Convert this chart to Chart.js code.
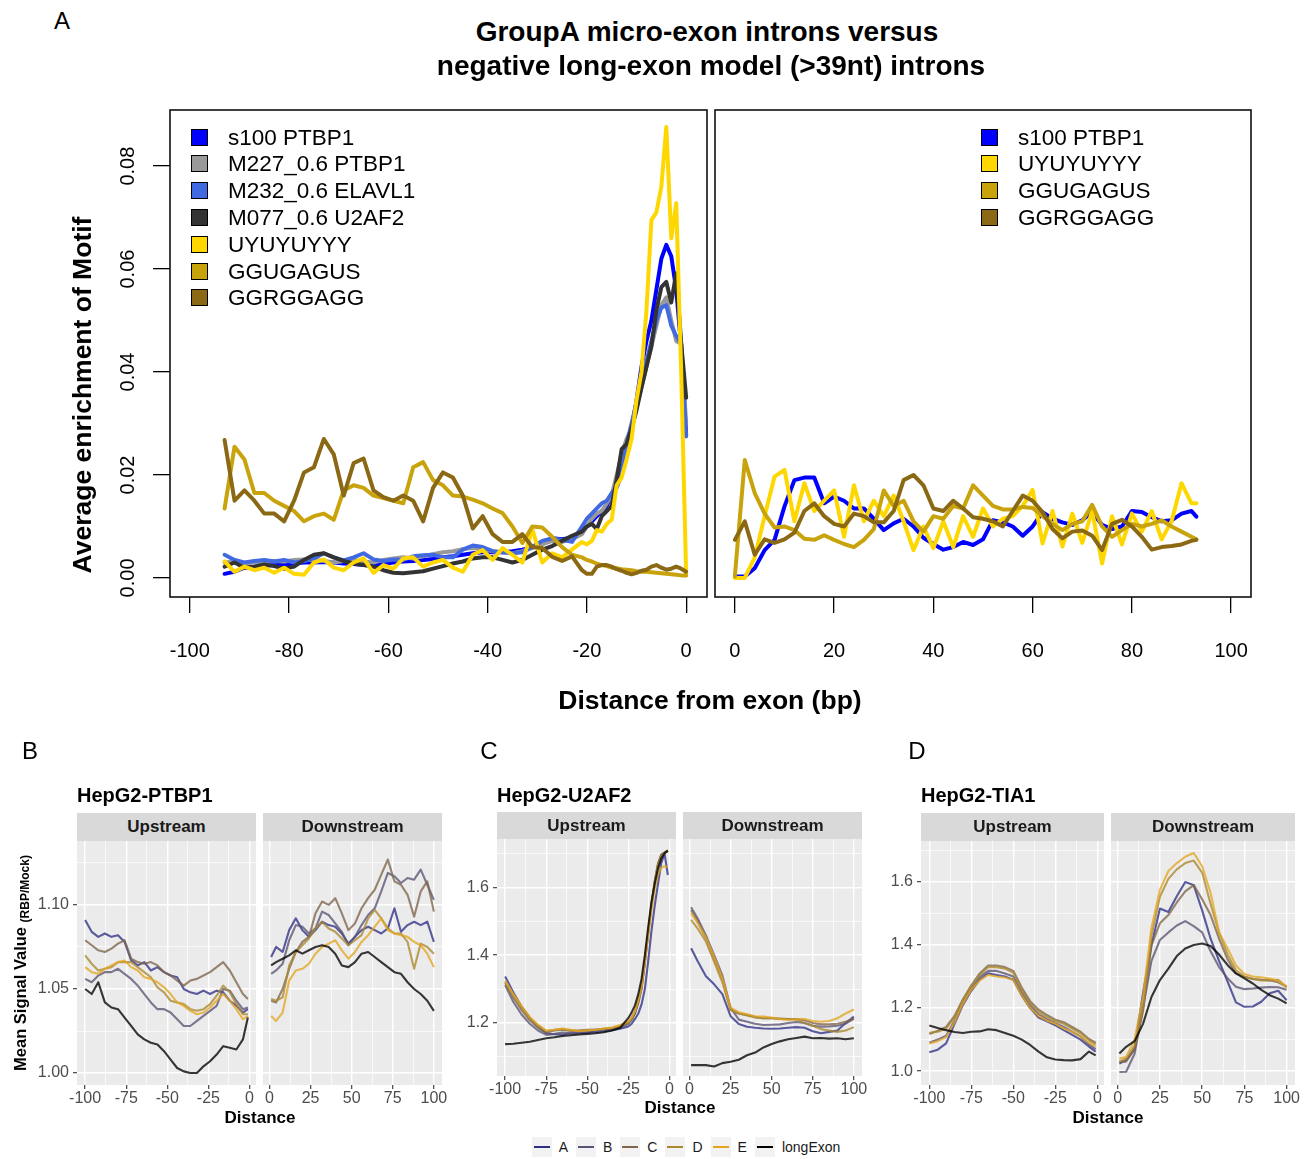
<!DOCTYPE html>
<html>
<head>
<meta charset="utf-8">
<script src="https://cdn.jsdelivr.net/npm/chart.js@4.4.1/dist/chart.umd.min.js"></script>
<style>
  html, body { margin: 0; padding: 0; background: #fff; }
  body { position: relative; width: 1310px; height: 1159px; overflow: hidden;
         font-family: "Liberation Sans", Arial, Helvetica, sans-serif; color: #000; }
  canvas { position: absolute; }
  .t { position: absolute; white-space: nowrap; }
  .strip { position: absolute; background: #d9d9d9; color: #1a1a1a; font-weight: bold;
           font-size: 17px; text-align: center; z-index: 2; }
  .key { position: absolute; width: 17px; height: 17px; box-sizing: border-box; border: 1.5px solid #000; }
  #glegend { position: absolute; left: 390px; width: 600px; top: 1137px; height: 20px;
             display: flex; justify-content: center; align-items: center; font-size: 14px; color: #1a1a1a; }
  #glegend .it { display: flex; align-items: center; margin-right: 8px; }
  #glegend .gk { width: 20px; height: 20px; background: #f2f2f2; position: relative; margin-right: 7px; }
  #glegend .gk span { position: absolute; left: 2px; right: 2px; top: 9px; height: 2px; }
</style>
</head>
<body>
<canvas id="motifUp"></canvas>
<canvas id="motifDown"></canvas>
<canvas id="ptbp1Up"></canvas>
<canvas id="ptbp1Down"></canvas>
<canvas id="u2af2Up"></canvas>
<canvas id="u2af2Down"></canvas>
<canvas id="tia1Up"></canvas>
<canvas id="tia1Down"></canvas>
<div id="glegend"></div>
<script>
// ---------- panel A: motif enrichment ----------
const motifNames = ['s100 PTBP1', 'M227_0.6 PTBP1', 'M232_0.6 ELAVL1', 'M077_0.6 U2AF2', 'UYUYUYYY', 'GGUGAGUS', 'GGRGGAGG'];
const motifColors = ['#0000ff', '#999999', '#4169e1', '#333333', '#ffd700', '#c9a30c', '#8b6914'];

const motifUpX = [-93,-91,-89,-87,-85,-83,-81,-79,-77,-75,-73,-71,-69,-67,-65,-63,-61,-59,-57,-55,-53,-51,-49,-47,-45,-43,-41,-39,-37,-35,-33,-31,-29,-27,-25,-23,-21,
  -20,-19,-18,-17,-16,-15,-14,-13,-12,-11,-10,-9,-8,-7,-6,-5,-4,-3,-2,-1,0];

const s100Up = [0.0008,0.0012,0.0020,0.0022,0.0024,0.0025,0.0026,0.0028,0.0030,0.0030,0.0031,0.0030,0.0028,0.0027,0.0025,0.0024,0.0027,0.0030,0.0032,0.0033,0.0035,0.0037,0.0040,0.0042,0.0045,0.0048,0.0050,0.0050,0.0050,0.0052,0.0055,0.0060,0.0070,0.0077,0.0075,0.0078,0.0090,
  0.0100,0.0110,0.0120,0.0130,0.0140,0.0160,0.0185,0.0210,0.0245,0.0290,0.0345,0.0410,0.0460,0.0500,0.0560,0.0620,0.0647,0.0625,0.0560,0.0450,0.0278];
const m227Up = [0.0030,0.0032,0.0028,0.0030,0.0031,0.0033,0.0032,0.0035,0.0036,0.0035,0.0033,0.0030,0.0033,0.0035,0.0032,0.0030,0.0035,0.0038,0.0040,0.0038,0.0042,0.0046,0.0050,0.0052,0.0056,0.0058,0.0055,0.0052,0.0050,0.0048,0.0052,0.0058,0.0065,0.0072,0.0070,0.0075,0.0085,
  0.0100,0.0115,0.0125,0.0130,0.0145,0.0160,0.0200,0.0240,0.0270,0.0290,0.0330,0.0370,0.0410,0.0450,0.0490,0.0530,0.0545,0.0500,0.0460,0.0455,0.0300];
const m232Up = [0.0045,0.0035,0.0030,0.0033,0.0035,0.0032,0.0035,0.0030,0.0033,0.0038,0.0048,0.0040,0.0034,0.0040,0.0048,0.0036,0.0033,0.0036,0.0035,0.0042,0.0044,0.0045,0.0040,0.0040,0.0055,0.0063,0.0060,0.0052,0.0050,0.0048,0.0050,0.0060,0.0072,0.0077,0.0074,0.0070,0.0100,
  0.0115,0.0125,0.0135,0.0145,0.0150,0.0165,0.0175,0.0200,0.0260,0.0300,0.0340,0.0380,0.0420,0.0460,0.0500,0.0525,0.0530,0.0490,0.0470,0.0455,0.0275];
const m077Up = [0.0022,0.0030,0.0020,0.0022,0.0026,0.0023,0.0018,0.0022,0.0035,0.0045,0.0048,0.0040,0.0033,0.0028,0.0025,0.0022,0.0015,0.0010,0.0009,0.0011,0.0013,0.0018,0.0023,0.0028,0.0032,0.0038,0.0040,0.0040,0.0035,0.0030,0.0035,0.0045,0.0055,0.0062,0.0072,0.0082,0.0090,
  0.0100,0.0105,0.0095,0.0120,0.0130,0.0140,0.0190,0.0250,0.0260,0.0290,0.0326,0.0370,0.0410,0.0450,0.0520,0.0565,0.0575,0.0535,0.0592,0.0456,0.0350];
const uyuUp = [0.0032,0.0012,0.0022,0.0015,0.0020,0.0010,0.0020,0.0008,0.0006,0.0030,0.0036,0.0020,0.0015,0.0030,0.0038,0.0010,0.0025,0.0018,0.0038,0.0040,0.0022,0.0030,0.0035,0.0020,0.0012,0.0045,0.0054,0.0035,0.0058,0.0045,0.0030,0.0095,0.0030,0.0048,0.0040,0.0055,0.0070,
  0.0065,0.0072,0.0093,0.0090,0.0105,0.0113,0.0180,0.0195,0.0230,0.0270,0.0346,0.0400,0.0520,0.0695,0.0710,0.0760,0.0876,0.0660,0.0728,0.0400,0.0005];
const ggugUp = [0.0135,0.0255,0.0230,0.0165,0.0165,0.0150,0.0140,0.0130,0.0110,0.0120,0.0125,0.0113,0.0170,0.0180,0.0175,0.0160,0.0155,0.0150,0.0145,0.0215,0.0225,0.0190,0.0180,0.0160,0.0158,0.0152,0.0145,0.0135,0.0126,0.0100,0.0068,0.0100,0.0098,0.0080,0.0060,0.0045,0.0040,
  0.0035,0.0032,0.0028,0.0025,0.0023,0.0020,0.0019,0.0017,0.0016,0.0015,0.0013,0.0012,0.0012,0.0011,0.0010,0.0009,0.0008,0.0007,0.0006,0.0005,0.0005];
const ggrgUp = [0.0268,0.0150,0.0170,0.0150,0.0125,0.0125,0.0110,0.0150,0.0205,0.0215,0.0270,0.0240,0.0160,0.0223,0.0232,0.0170,0.0157,0.0150,0.0160,0.0150,0.0110,0.0175,0.0205,0.0195,0.0160,0.0096,0.0120,0.0085,0.0070,0.0070,0.0085,0.0060,0.0058,0.0041,0.0033,0.0042,0.0015,
  0.0008,0.0008,0.0022,0.0025,0.0025,0.0022,0.0017,0.0014,0.0010,0.0007,0.0010,0.0014,0.0016,0.0022,0.0025,0.0020,0.0016,0.0018,0.0022,0.0018,0.0012];

const motifDownX = [0,2,4,6,8,10,12,14,16,18,20,22,24,26,28,30,32,34,36,38,40,42,44,46,48,50,52,54,56,58,60,62,64,66,68,70,72,74,76,78,80,82,84,86,88,90,92,93];
const s100Down = [0.0003,0.0003,0.0019,0.0054,0.0074,0.0139,0.0190,0.0195,0.0195,0.0145,0.0158,0.0150,0.0135,0.0135,0.0115,0.0093,0.0106,0.0115,0.0100,0.0078,0.0066,0.0055,0.0060,0.0070,0.0064,0.0075,0.0112,0.0108,0.0100,0.0082,0.0100,0.0128,0.0115,0.0108,0.0103,0.0112,0.0128,0.0103,0.0095,0.0100,0.0130,0.0128,0.0118,0.0110,0.0112,0.0125,0.0130,0.0119];
const uyuDown = [0.0000,0.0000,0.0040,0.0120,0.0197,0.0210,0.0110,0.0184,0.0130,0.0150,0.0170,0.0080,0.0180,0.0110,0.0150,0.0120,0.0160,0.0110,0.0054,0.0100,0.0058,0.0110,0.0060,0.0120,0.0080,0.0135,0.0100,0.0115,0.0120,0.0140,0.0171,0.0067,0.0130,0.0061,0.0125,0.0068,0.0130,0.0028,0.0120,0.0065,0.0125,0.0090,0.0130,0.0075,0.0110,0.0184,0.0145,0.0145];
const ggugDown = [0.0003,0.0229,0.0165,0.0125,0.0098,0.0100,0.0093,0.0076,0.0074,0.0083,0.0074,0.0066,0.0060,0.0074,0.0095,0.0170,0.0140,0.0150,0.0110,0.0090,0.0120,0.0115,0.0140,0.0135,0.0180,0.0160,0.0140,0.0133,0.0133,0.0138,0.0136,0.0120,0.0105,0.0093,0.0105,0.0110,0.0142,0.0100,0.0080,0.0093,0.0105,0.0100,0.0105,0.0112,0.0100,0.0090,0.0080,0.0075];
const ggrgDown = [0.0074,0.0110,0.0045,0.0075,0.0068,0.0075,0.0088,0.0130,0.0145,0.0120,0.0105,0.0100,0.0125,0.0120,0.0108,0.0108,0.0130,0.0190,0.0200,0.0180,0.0135,0.0130,0.0150,0.0135,0.0118,0.0115,0.0110,0.0100,0.0130,0.0160,0.0150,0.0128,0.0095,0.0077,0.0090,0.0092,0.0082,0.0054,0.0105,0.0113,0.0100,0.0080,0.0055,0.0060,0.0062,0.0065,0.0072,0.0074];

const motifUpTicks = [-100, -80, -60, -40, -20, 0];
const motifDownTicks = [0, 20, 40, 60, 80, 100];
const motifYTicks = [0, 0.02, 0.04, 0.06, 0.08];

// ---------- panels B-D: signal profiles ----------
const groupNames = ['A', 'B', 'C', 'D', 'E', 'longExon'];
const groupColors = ['#2f2f86', '#5b5373', '#7e654b', '#a9882f', '#e3a521', '#000000'];

const upX4 = [-100,-96,-92,-88,-84,-80,-76,-72,-68,-64,-60,-56,-52,-48,-44,-40,-36,-32,-28,-24,-20,-16,-12,-8,-4,-1];
const downX4 = [1,4,8,12,16,20,24,28,32,36,40,44,48,52,56,60,64,68,72,76,80,84,88,92,96,100];
const ptbp1Up = [
  [1.091,1.084,1.081,1.083,1.081,1.082,1.078,1.067,1.064,1.066,1.061,1.063,1.060,1.058,1.057,1.050,1.048,1.047,1.049,1.047,1.049,1.048,1.043,1.040,1.036,1.038],
  [1.056,1.054,1.058,1.060,1.060,1.062,1.059,1.056,1.052,1.047,1.042,1.038,1.038,1.036,1.032,1.028,1.028,1.031,1.034,1.037,1.040,1.050,1.049,1.043,1.038,1.039],
  [1.079,1.076,1.073,1.072,1.074,1.077,1.079,1.068,1.066,1.065,1.066,1.064,1.060,1.058,1.055,1.052,1.055,1.056,1.058,1.060,1.063,1.066,1.061,1.054,1.047,1.044],
  [1.070,1.065,1.061,1.062,1.063,1.066,1.066,1.066,1.063,1.060,1.057,1.051,1.048,1.043,1.042,1.041,1.038,1.037,1.038,1.041,1.046,1.052,1.048,1.041,1.035,1.035],
  [1.063,1.060,1.059,1.062,1.064,1.066,1.067,1.063,1.061,1.057,1.056,1.054,1.051,1.047,1.042,1.040,1.037,1.035,1.036,1.039,1.043,1.047,1.043,1.038,1.032,1.034],
  [1.050,1.047,1.054,1.042,1.039,1.038,1.033,1.028,1.023,1.020,1.018,1.017,1.013,1.008,1.003,1.001,1.000,1.000,1.004,1.007,1.011,1.016,1.015,1.014,1.020,1.033]
];
const ptbp1Down = [
  [1.069,1.075,1.072,1.085,1.092,1.085,1.081,1.085,1.090,1.088,1.087,1.083,1.077,1.081,1.085,1.087,1.085,1.083,1.086,1.098,1.084,1.088,1.090,1.088,1.090,1.078],
  [1.059,1.061,1.065,1.079,1.088,1.087,1.083,1.086,1.096,1.094,1.089,1.084,1.076,1.081,1.088,1.094,1.098,1.108,1.119,1.117,1.113,1.116,1.115,1.121,1.112,1.103],
  [1.043,1.042,1.050,1.062,1.072,1.078,1.081,1.095,1.102,1.100,1.104,1.095,1.085,1.089,1.098,1.104,1.109,1.118,1.127,1.114,1.112,1.106,1.093,1.108,1.114,1.096],
  [1.044,1.043,1.045,1.064,1.072,1.076,1.080,1.086,1.090,1.086,1.084,1.080,1.076,1.079,1.082,1.092,1.097,1.092,1.086,1.083,1.083,1.078,1.062,1.077,1.075,1.071],
  [1.034,1.031,1.036,1.055,1.061,1.062,1.065,1.071,1.075,1.077,1.079,1.073,1.068,1.072,1.078,1.082,1.087,1.092,1.085,1.083,1.082,1.081,1.078,1.076,1.071,1.063],
  [1.064,1.066,1.068,1.070,1.073,1.071,1.073,1.075,1.076,1.075,1.071,1.064,1.063,1.066,1.071,1.072,1.069,1.066,1.063,1.060,1.059,1.054,1.050,1.047,1.043,1.037]
];

const u2af2UpX = [-100,-95,-90,-85,-80,-75,-70,-65,-60,-55,-50,-45,-40,-35,-30,-25,-23,-21,-19,-17,-15,-13,-11,-9,-7,-5,-3,-1];
const downX5 = [1,5,10,15,20,25,30,35,40,45,50,55,60,65,70,75,80,85,90,95,100];
const u2af2Up = [
  [1.337,1.290,1.248,1.215,1.190,1.170,1.167,1.166,1.170,1.170,1.172,1.174,1.176,1.179,1.183,1.190,1.198,1.212,1.228,1.255,1.300,1.380,1.470,1.545,1.610,1.672,1.698,1.636],
  [1.312,1.262,1.225,1.198,1.178,1.165,1.168,1.172,1.170,1.173,1.175,1.178,1.180,1.180,1.186,1.198,1.210,1.228,1.258,1.300,1.375,1.460,1.545,1.615,1.668,1.695,1.702,1.705],
  [1.318,1.275,1.238,1.208,1.186,1.172,1.178,1.180,1.177,1.178,1.180,1.181,1.182,1.184,1.190,1.200,1.212,1.230,1.262,1.305,1.380,1.465,1.550,1.618,1.670,1.696,1.703,1.708],
  [1.322,1.282,1.245,1.214,1.192,1.176,1.180,1.182,1.178,1.178,1.179,1.180,1.183,1.186,1.192,1.203,1.215,1.235,1.268,1.310,1.385,1.468,1.548,1.612,1.666,1.692,1.700,1.706],
  [1.325,1.285,1.250,1.218,1.195,1.178,1.180,1.184,1.180,1.176,1.178,1.180,1.184,1.187,1.194,1.205,1.216,1.236,1.266,1.308,1.380,1.458,1.532,1.595,1.638,1.658,1.662,1.660],
  [1.138,1.139,1.142,1.145,1.150,1.155,1.158,1.162,1.164,1.166,1.168,1.170,1.173,1.178,1.186,1.215,1.232,1.252,1.285,1.330,1.400,1.480,1.555,1.610,1.655,1.685,1.700,1.708]
];
const u2af2Down = [
  [1.420,1.382,1.338,1.314,1.285,1.220,1.197,1.189,1.186,1.184,1.183,1.184,1.186,1.188,1.186,1.176,1.170,1.174,1.178,1.200,1.219],
  [1.541,1.508,1.458,1.400,1.340,1.245,1.210,1.204,1.198,1.194,1.195,1.196,1.200,1.203,1.200,1.192,1.189,1.190,1.192,1.198,1.212],
  [1.533,1.500,1.450,1.390,1.330,1.240,1.228,1.224,1.218,1.214,1.214,1.213,1.212,1.212,1.208,1.200,1.196,1.196,1.198,1.204,1.213],
  [1.504,1.478,1.440,1.380,1.320,1.238,1.228,1.222,1.216,1.214,1.214,1.212,1.212,1.210,1.200,1.192,1.182,1.178,1.174,1.178,1.188],
  [1.523,1.494,1.452,1.394,1.332,1.245,1.232,1.226,1.220,1.219,1.216,1.212,1.209,1.211,1.212,1.206,1.204,1.206,1.214,1.228,1.240],
  [1.076,1.076,1.076,1.072,1.082,1.086,1.092,1.105,1.113,1.128,1.138,1.146,1.152,1.156,1.160,1.155,1.156,1.154,1.155,1.152,1.155]
];

const upX5 = [-100,-95,-90,-85,-80,-75,-70,-65,-60,-55,-50,-45,-40,-35,-30,-25,-20,-15,-10,-5,-1];
const tia1Up = [
  [1.060,1.068,1.088,1.150,1.210,1.255,1.290,1.310,1.305,1.300,1.290,1.240,1.200,1.170,1.158,1.145,1.130,1.115,1.100,1.078,1.062],
  [1.090,1.100,1.112,1.160,1.220,1.262,1.298,1.318,1.318,1.310,1.300,1.250,1.210,1.180,1.165,1.152,1.140,1.125,1.110,1.085,1.070],
  [1.118,1.128,1.140,1.175,1.228,1.272,1.310,1.335,1.335,1.330,1.318,1.265,1.222,1.195,1.178,1.163,1.155,1.140,1.125,1.102,1.090],
  [1.122,1.125,1.135,1.170,1.225,1.270,1.305,1.330,1.330,1.325,1.312,1.258,1.215,1.188,1.172,1.158,1.150,1.135,1.120,1.098,1.085],
  [1.088,1.095,1.108,1.155,1.215,1.258,1.288,1.305,1.300,1.297,1.290,1.240,1.200,1.175,1.160,1.150,1.135,1.125,1.110,1.090,1.078],
  [1.145,1.137,1.130,1.124,1.121,1.125,1.126,1.133,1.130,1.121,1.112,1.100,1.083,1.062,1.044,1.037,1.035,1.034,1.038,1.062,1.050]
];
const tia1Down = [
  [1.024,1.035,1.070,1.247,1.400,1.516,1.505,1.555,1.600,1.590,1.510,1.420,1.350,1.285,1.218,1.204,1.205,1.220,1.247,1.255,1.225],
  [0.997,0.998,1.055,1.200,1.350,1.416,1.440,1.462,1.476,1.460,1.440,1.380,1.330,1.295,1.268,1.260,1.262,1.265,1.267,1.266,1.258],
  [1.030,1.030,1.070,1.190,1.400,1.469,1.495,1.535,1.570,1.590,1.545,1.495,1.420,1.355,1.310,1.299,1.292,1.290,1.288,1.282,1.268],
  [1.030,1.040,1.080,1.200,1.430,1.553,1.610,1.640,1.660,1.668,1.630,1.530,1.440,1.370,1.320,1.300,1.292,1.288,1.288,1.290,1.265],
  [1.040,1.045,1.100,1.236,1.455,1.575,1.635,1.660,1.680,1.692,1.650,1.565,1.440,1.390,1.335,1.308,1.300,1.298,1.294,1.287,1.268],
  [1.056,1.077,1.095,1.150,1.235,1.289,1.325,1.365,1.389,1.400,1.405,1.397,1.370,1.337,1.310,1.294,1.278,1.258,1.241,1.230,1.215]
];

const upMajor = [-100, -75, -50, -25, 0], upMinor = [-87.5, -62.5, -37.5, -12.5];
const downMajor = [0, 25, 50, 75, 100], downMinor = [12.5, 37.5, 62.5, 87.5];

// ---------- helpers ----------
const FONT = '"Liberation Sans", Arial, Helvetica, sans-serif';
Chart.defaults.font.family = FONT;

const panelBg = {
  id: 'panelBg',
  beforeDraw(chart, args, opts) {
    if (!opts.color) return;
    const a = chart.chartArea, ctx = chart.ctx;
    ctx.save();
    ctx.fillStyle = opts.color;
    ctx.fillRect(a.left, a.top, a.right - a.left, a.bottom - a.top);
    ctx.restore();
  }
};
const panelBox = {
  id: 'panelBox',
  afterDraw(chart, args, opts) {
    if (!opts.color) return;
    const a = chart.chartArea, ctx = chart.ctx;
    ctx.save();
    ctx.strokeStyle = opts.color;
    ctx.lineWidth = opts.width;
    ctx.strokeRect(a.left, a.top, a.right - a.left, a.bottom - a.top);
    ctx.restore();
  }
};
// base-R style y labels, turned to read upwards
const sideLabels = {
  id: 'sideLabels',
  afterDraw(chart, args, opts) {
    if (opts.x == null) return;
    const sc = chart.scales.y, ctx = chart.ctx;
    ctx.save();
    ctx.font = opts.size + 'px ' + FONT;
    ctx.fillStyle = '#000';
    ctx.textAlign = 'center';
    ctx.textBaseline = 'middle';
    sc.ticks.forEach(t => {
      ctx.save();
      ctx.translate(opts.x, sc.getPixelForValue(t.value));
      ctx.rotate(-Math.PI / 2);
      ctx.fillText(t.value.toFixed(2), 0, 0);
      ctx.restore();
    });
    ctx.restore();
  }
};
Chart.register(panelBg, panelBox, sideLabels);

function place(cv, area, yW, xH, pad) {
  cv.width = area.w + yW + 2 * pad;
  cv.height = area.h + xH + 2 * pad;
  cv.style.left = (area.x - yW - pad) + 'px';
  cv.style.top = (area.y - pad) + 'px';
  return area.x - yW - pad;
}

function fade(hex, a) {
  const n = parseInt(hex.slice(1), 16);
  return 'rgba(' + (n >> 16) + ',' + ((n >> 8) & 255) + ',' + (n & 255) + ',' + a + ')';
}

function label(text, x, y, size, o) {
  o = o || {};
  const d = document.createElement('div');
  d.className = 't';
  d.innerHTML = text;
  const lh = Math.round(size * 1.2);
  d.style.fontSize = size + 'px';
  d.style.lineHeight = lh + 'px';
  d.style.top = (y - lh / 2) + 'px';
  if (o.bold) d.style.fontWeight = 'bold';
  if (o.color) d.style.color = o.color;
  if (o.left) {
    d.style.left = x + 'px';
  } else {
    d.style.left = (x - 400) + 'px';
    d.style.width = '800px';
    d.style.textAlign = 'center';
  }
  if (o.rotate) d.style.transform = 'rotate(-90deg)';
  document.body.appendChild(d);
  return d;
}

function motifPanel(id, area, xs, vals, idx, xMin, xMax, xTicks, withY) {
  const cv = document.getElementById(id);
  const pad = 30, yW = withY ? 70 : 0, xH = 60;
  const left = place(cv, area, yW, xH, pad);
  new Chart(cv, {
    type: 'line',
    data: {
      datasets: vals.map((v, i) => ({
        label: motifNames[idx[i]],
        data: xs.map((x, j) => ({ x: x, y: v[j] })),
        borderColor: motifColors[idx[i]],
        borderWidth: 4,
        pointRadius: 0,
        tension: 0,
        fill: false,
        borderJoinStyle: 'round',
        borderCapStyle: 'round',
        order: vals.length - i
      }))
    },
    options: {
      responsive: false, animation: false, devicePixelRatio: 1,
      layout: { padding: pad },
      plugins: {
        legend: { display: false }, tooltip: { enabled: false },
        panelBox: { color: '#111', width: 1.6 },
        sideLabels: withY ? { x: 128 - left, size: 20 } : {}
      },
      scales: {
        x: {
          type: 'linear', min: xMin, max: xMax, bounds: 'data',
          afterBuildTicks: ax => { ax.ticks = xTicks.map(v => ({ value: v })); },
          afterFit: ax => { ax.height = xH; },
          grid: { drawOnChartArea: false, drawTicks: true, tickLength: 16, color: '#000', lineWidth: 1.3 },
          border: { display: false },
          ticks: { padding: 26, color: '#000', font: { size: 20 }, autoSkip: false, maxRotation: 0,
                   callback: v => String(v) }
        },
        y: {
          type: 'linear', display: withY, min: -0.0037, max: 0.0909, bounds: 'data',
          afterBuildTicks: ax => { ax.ticks = motifYTicks.map(v => ({ value: v })); },
          afterFit: ax => { ax.width = yW; },
          grid: { drawOnChartArea: false, drawTicks: true, tickLength: 17, color: '#000', lineWidth: 1.3 },
          border: { display: false },
          ticks: { display: false }
        }
      }
    }
  });
}

function facet(id, area, xs, vals, xr, xMaj, xMin, yr, yMaj, yMin, digits, withY) {
  const cv = document.getElementById(id);
  const pad = 16, yW = withY ? 50 : 0, xH = 24;
  place(cv, area, yW, xH, pad);
  const key = v => Math.round(v * 1000);
  const xSet = new Set(xMaj.map(key)), ySet = new Set(yMaj.map(key));
  const xAll = xMaj.concat(xMin).sort((a, b) => a - b);
  const yAll = yMaj.concat(yMin).sort((a, b) => a - b);
  const isMaj = (set, c) => c.tick && set.has(key(c.tick.value));
  new Chart(cv, {
    type: 'line',
    data: {
      datasets: vals.map((v, i) => ({
        label: groupNames[i],
        data: xs.map((x, j) => ({ x: x, y: v[j] })),
        borderColor: fade(groupColors[i], 0.78),
        borderWidth: 2.1,
        pointRadius: 0,
        tension: 0,
        fill: false,
        borderJoinStyle: 'round',
        order: vals.length - i
      }))
    },
    options: {
      responsive: false, animation: false, devicePixelRatio: 1,
      layout: { padding: pad },
      plugins: { legend: { display: false }, tooltip: { enabled: false }, panelBg: { color: '#ebebeb' } },
      scales: {
        x: {
          type: 'linear', min: xr[0], max: xr[1], bounds: 'data',
          afterBuildTicks: ax => { ax.ticks = xAll.map(v => ({ value: v })); },
          afterFit: ax => { ax.height = xH; },
          grid: {
            color: '#ffffff',
            lineWidth: c => isMaj(xSet, c) ? 1.4 : 0.7,
            drawTicks: true, tickLength: 4,
            tickColor: c => isMaj(xSet, c) ? '#333333' : 'rgba(0,0,0,0)',
            tickWidth: 1.1
          },
          border: { display: false },
          ticks: { padding: 0, color: '#4d4d4d', font: { size: 16 }, autoSkip: false, maxRotation: 0,
                   callback: v => xSet.has(key(v)) ? String(v) : '' }
        },
        y: {
          type: 'linear', min: yr[0], max: yr[1], bounds: 'data',
          afterBuildTicks: ax => { ax.ticks = yAll.map(v => ({ value: v })); },
          afterFit: ax => { ax.width = yW; },
          grid: {
            color: '#ffffff',
            lineWidth: c => isMaj(ySet, c) ? 1.4 : 0.7,
            drawTicks: withY, tickLength: 4,
            tickColor: c => isMaj(ySet, c) ? '#333333' : 'rgba(0,0,0,0)',
            tickWidth: 1.1
          },
          border: { display: false },
          ticks: { display: withY, padding: 4, color: '#4d4d4d', font: { size: 16 }, autoSkip: false,
                   callback: v => ySet.has(key(v)) ? v.toFixed(digits) : '' }
        }
      }
    }
  });
}

function strip(text, area, h) {
  const d = document.createElement('div');
  d.className = 'strip';
  d.textContent = text;
  d.style.left = area.x + 'px';
  d.style.width = area.w + 'px';
  d.style.top = (area.y - h) + 'px';
  d.style.height = h + 'px';
  d.style.lineHeight = h + 'px';
  document.body.appendChild(d);
}

function motifLegend(x, y0, idx) {
  idx.forEach((k, i) => {
    const y = y0 + i * 26.8;
    const b = document.createElement('div');
    b.className = 'key';
    b.style.left = x + 'px';
    b.style.top = (y - 8.5) + 'px';
    b.style.background = motifColors[k];
    document.body.appendChild(b);
    label(motifNames[k], x + 37, y, 22.5, { left: true });
  });
}

// ---------- panel A ----------
const upArea = { x: 170, y: 110, w: 537, h: 487 };
const downArea = { x: 715, y: 110, w: 536, h: 487 };
motifPanel('motifUp', upArea, motifUpX, [s100Up, m227Up, m232Up, m077Up, uyuUp, ggugUp, ggrgUp],
  [0, 1, 2, 3, 4, 5, 6], -104, 4.2, motifUpTicks, true);
motifPanel('motifDown', downArea, motifDownX, [s100Down, uyuDown, ggugDown, ggrgDown],
  [0, 4, 5, 6], -4, 104, motifDownTicks, false);
motifLegend(191, 137, [0, 1, 2, 3, 4, 5, 6]);
motifLegend(981, 137, [0, 4, 5, 6]);

label('A', 62, 20, 24);
label('GroupA micro-exon introns versus', 707, 32, 28, { bold: true });
label('negative long-exon model (&gt;39nt) introns', 711, 66, 28, { bold: true });
label('Distance from exon (bp)', 710, 700, 26.5, { bold: true });
label('Average enrichment of Motif', 82, 395, 26.5, { bold: true, rotate: true });

// ---------- panels B-D ----------
const bUp = { x: 77, y: 841, w: 179, h: 244 }, bDown = { x: 263, y: 841, w: 179, h: 244 };
const cUp = { x: 497, y: 839, w: 179, h: 237 }, cDown = { x: 683, y: 839, w: 179, h: 237 };
const dUp = { x: 921, y: 841, w: 183, h: 244 }, dDown = { x: 1111, y: 841, w: 184, h: 244 };
const upRange = [-104.95, 3.95], downRange = [-3.95, 104.95];

facet('ptbp1Up', bUp, upX4, ptbp1Up, upRange, upMajor, upMinor, [0.9929, 1.138], [1.00, 1.05, 1.10], [1.025, 1.075, 1.125], 2, true);
facet('ptbp1Down', bDown, downX4, ptbp1Down, downRange, downMajor, downMinor, [0.9929, 1.138], [1.00, 1.05, 1.10], [1.025, 1.075, 1.125], 2, false);
facet('u2af2Up', cUp, u2af2UpX, u2af2Up, upRange, upMajor, upMinor, [1.044, 1.742], [1.2, 1.4, 1.6], [1.1, 1.3, 1.5, 1.7], 1, true);
facet('u2af2Down', cDown, downX5, u2af2Down, downRange, downMajor, downMinor, [1.044, 1.742], [1.2, 1.4, 1.6], [1.1, 1.3, 1.5, 1.7], 1, false);
facet('tia1Up', dUp, upX5, tia1Up, upRange, upMajor, upMinor, [0.956, 1.730], [1.0, 1.2, 1.4, 1.6], [1.1, 1.3, 1.5, 1.7], 1, true);
facet('tia1Down', dDown, downX5, tia1Down, downRange, downMajor, downMinor, [0.956, 1.730], [1.0, 1.2, 1.4, 1.6], [1.1, 1.3, 1.5, 1.7], 1, false);

strip('Upstream', bUp, 28); strip('Downstream', bDown, 28);
strip('Upstream', cUp, 27); strip('Downstream', cDown, 27);
strip('Upstream', dUp, 28); strip('Downstream', dDown, 28);

label('B', 30, 750, 24);
label('C', 489, 750, 24);
label('D', 917, 750, 24);
label('HepG2-PTBP1', 77, 795, 20, { bold: true, left: true });
label('HepG2-U2AF2', 497, 795, 20, { bold: true, left: true });
label('HepG2-TIA1', 921, 795, 20, { bold: true, left: true });
label('Distance', 260, 1118, 17, { bold: true });
label('Distance', 680, 1108, 17, { bold: true });
label('Distance', 1108, 1118, 17, { bold: true });
label('Mean Signal Value <span style="font-size:12px;position:relative;top:3px">(RBP/Mock)</span>', 21, 962, 16.5, { bold: true, rotate: true });

// bottom legend
const gl = document.getElementById('glegend');
groupNames.forEach((n, i) => {
  const it = document.createElement('div');
  it.className = 'it';
  it.innerHTML = '<div class="gk"><span style="background:' + groupColors[i] + '"></span></div>' + n;
  gl.appendChild(it);
});
</script>
</body>
</html>
